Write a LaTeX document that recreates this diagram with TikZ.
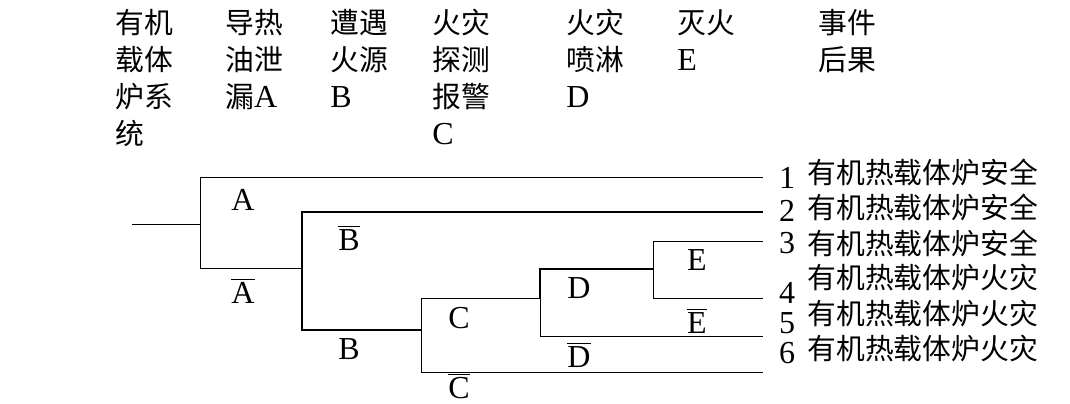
\documentclass[tikz,border=0pt]{standalone}
\usepackage{fontspec}
\setmainfont{Liberation Serif}
\newfontfamily\cjk{Noto Sans CJK SC}[Scale=0.9]

\begin{document}
\begin{tikzpicture}[x=0.5pt, y=-0.5pt,
    every node/.style={inner sep=0pt, font=\fontsize{16}{18.5}\selectfont},
    head/.style={anchor=north west, align=left},
    num/.style={text height=11pt, text depth=0pt},
    br/.style={black, line width=0.5pt},
    brt/.style={black, line width=0.85pt}]
	\useasboundingbox (0,0) rectangle (1070,403);

	% column heads
	\node[head] (h1) at (115,9) {{\cjk 有机}\\{\cjk 载体}\\{\cjk 炉系}\\{\cjk 统}};
	\node[head] (h2) at (225,9) {{\cjk 导热}\\{\cjk 油泄}\\{\cjk 漏}A};
	\node[head] (h3) at (330,9) {{\cjk 遭遇}\\{\cjk 火源}\\B};
	\node[head] (h4) at (432,9) {{\cjk 火灾}\\{\cjk 探测}\\{\cjk 报警}\\C};
	\node[head] (h5) at (566,9) {{\cjk 火灾}\\{\cjk 喷淋}\\D};
	\node[head] (h6) at (677,9) {{\cjk 灭火}\\E};
	\node[head] (h7) at (818,9) {{\cjk 事件}\\{\cjk 后果}};

	% branch points and ends
	\coordinate (root) at (132,224);
	\coordinate (nA) at (200,224);
	\coordinate (nB) at (302,268);
	\coordinate (nC) at (421,330);
	\coordinate (nD) at (540,298);
	\coordinate (nE) at (653,269);
	\coordinate (e1) at (763,177);
	\coordinate (e2) at (763,212);
	\coordinate (e3) at (763,241);
	\coordinate (e4) at (763,298);
	\coordinate (e5) at (763,336);
	\coordinate (e6) at (763,372);

	\draw[br] (root) -- (nA);
	\draw[br] (nA) |- (e1);
	\draw[br] (nA) |- (nB);
	\draw[brt] (nB) |- (e2);
	\draw[brt] (nB) |- (nC);
	\draw[br] (nC) |- (nD);
	\draw[br] (nC) |- (e6);
	\draw[brt] (nD) |- (nE);
	\draw[br] (nD) |- (e5);
	\draw[br] (nE) |- (e3);
	\draw[br] (nE) |- (e4);

	% branch labels
	\node (lA) at (243,200) {A};
	\node (lnA) at (243,291) {$\overline{\mbox{A}}$};
	\node (lnB) at (349,238) {$\overline{\mbox{B}}$};
	\node (lB) at (349,349) {B};
	\node (lC) at (459,318) {C};
	\node (lnC) at (459,386) {$\overline{\mbox{C}}$};
	\node (lD) at (579,288) {D};
	\node (lnD) at (579,355) {$\overline{\mbox{D}}$};
	\node (lE) at (697,260) {E};
	\node (lnE) at (697,321) {$\overline{\mbox{E}}$};

	% outcomes
	\node[num] (n1) at (787,177) {1};
	\node[num] (n2) at (787,210) {2};
	\node[num] (n3) at (787,242) {3};
	\node[num] (n4) at (787,292) {4};
	\node[num] (n5) at (787,322) {5};
	\node[num] (n6) at (787,352) {6};
	\node[anchor=west] (t1) at (807,172) {\cjk 有机热载体炉安全};
	\node[anchor=west] (t2) at (807,207) {\cjk 有机热载体炉安全};
	\node[anchor=west] (t3) at (807,243) {\cjk 有机热载体炉安全};
	\node[anchor=west] (t4) at (807,278) {\cjk 有机热载体炉火灾};
	\node[anchor=west] (t5) at (807,314) {\cjk 有机热载体炉火灾};
	\node[anchor=west] (t6) at (807,349) {\cjk 有机热载体炉火灾};
\end{tikzpicture}
\end{document}
